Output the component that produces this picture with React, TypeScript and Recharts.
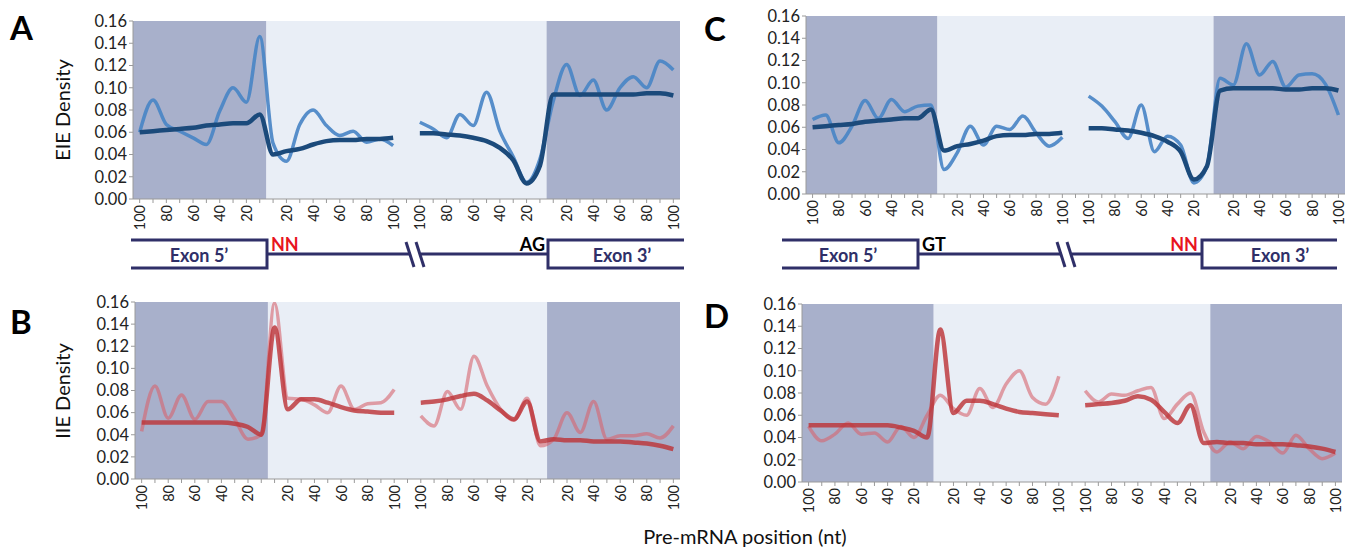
import React from "react";
import { LineChart, Line, XAxis, YAxis, ReferenceArea } from "recharts";

// x positions: exon 5' (100..10), intron start (10..100), break, intron end (100..10), exon 3' (10..100)
const categories = [
  "100", "90", "80", "70", "60", "50", "40", "30", "20", "10",
  "10", "20", "30", "40", "50", "60", "70", "80", "90", "100",
  "",
  "100", "90", "80", "70", "60", "50", "40", "30", "20", "10",
  "10", "20", "30", "40", "50", "60", "70", "80", "90", "100",
];
const positions = categories.map((_, i) => i);
const yTicks = [0, 0.02, 0.04, 0.06, 0.08, 0.1, 0.12, 0.14, 0.16];

// panel A – EIE density, NN donor
const eieObsA = [
  0.060, 0.089, 0.067, 0.061, 0.055, 0.049, 0.079, 0.100, 0.087, 0.146,
  0.050, 0.034, 0.067, 0.080, 0.066, 0.057, 0.061, 0.051, 0.054, 0.048,
  null,
  0.069, 0.063, 0.055, 0.076, 0.066, 0.096, 0.061, 0.038, 0.015, 0.036,
  0.088, 0.121, 0.093, 0.107, 0.080, 0.100, 0.110, 0.100, 0.124, 0.116,
];
const eieExpA = [
  0.060, 0.061, 0.062, 0.063, 0.064, 0.066, 0.067, 0.068, 0.068, 0.076,
  0.040, 0.043, 0.045, 0.049, 0.052, 0.053, 0.053, 0.054, 0.054, 0.055,
  null,
  0.059, 0.059, 0.058, 0.057, 0.055, 0.052, 0.046, 0.035, 0.014, 0.030,
  0.094, 0.094, 0.094, 0.094, 0.094, 0.094, 0.094, 0.095, 0.095, 0.093,
];

// panel C – EIE density, NN acceptor
const eieObsC = [
  0.067, 0.071, 0.046, 0.061, 0.084, 0.068, 0.085, 0.074, 0.079, 0.080,
  0.022, 0.037, 0.061, 0.044, 0.061, 0.058, 0.070, 0.055, 0.043, 0.051,
  null,
  0.088, 0.079, 0.065, 0.050, 0.080, 0.038, 0.052, 0.044, 0.010, 0.025,
  0.104, 0.098, 0.135, 0.107, 0.119, 0.096, 0.107, 0.108, 0.099, 0.071,
];
const eieExpC = [
  0.060, 0.061, 0.062, 0.063, 0.065, 0.066, 0.067, 0.068, 0.068, 0.076,
  0.039, 0.043, 0.045, 0.048, 0.052, 0.053, 0.053, 0.054, 0.054, 0.055,
  null,
  0.059, 0.059, 0.058, 0.057, 0.055, 0.052, 0.047, 0.038, 0.013, 0.025,
  0.093, 0.095, 0.095, 0.095, 0.095, 0.094, 0.094, 0.095, 0.095, 0.093,
];

// panel B – IIE density, NN donor
const iieObsB = [
  0.043, 0.084, 0.055, 0.076, 0.054, 0.070, 0.070, 0.054, 0.036, 0.040,
  0.159, 0.073, 0.072, 0.067, 0.060, 0.084, 0.063, 0.068, 0.069, 0.081,
  null,
  0.057, 0.048, 0.079, 0.063, 0.111, 0.084, 0.063, 0.053, 0.073, 0.030,
  0.036, 0.060, 0.042, 0.070, 0.036, 0.039, 0.039, 0.041, 0.037, 0.048,
];
const iieExpB = [
  0.051, 0.051, 0.051, 0.051, 0.051, 0.051, 0.051, 0.050, 0.047, 0.040,
  0.137, 0.063, 0.072, 0.072, 0.069, 0.065, 0.062, 0.061, 0.060, 0.060,
  null,
  0.069, 0.070, 0.072, 0.075, 0.077, 0.071, 0.062, 0.054, 0.070, 0.034,
  0.036, 0.035, 0.035, 0.034, 0.034, 0.034, 0.033, 0.032, 0.030, 0.027,
];

// panel D – IIE density, NN acceptor
const iieObsD = [
  0.050, 0.037, 0.043, 0.053, 0.043, 0.044, 0.036, 0.050, 0.040, 0.060,
  0.078, 0.066, 0.060, 0.084, 0.067, 0.088, 0.100, 0.076, 0.070, 0.095,
  null,
  0.082, 0.072, 0.079, 0.078, 0.082, 0.085, 0.057, 0.070, 0.080, 0.045,
  0.027, 0.036, 0.030, 0.041, 0.036, 0.026, 0.042, 0.030, 0.021, 0.026,
];
const iieExpD = [
  0.051, 0.051, 0.051, 0.051, 0.051, 0.051, 0.051, 0.049, 0.046, 0.040,
  0.137, 0.062, 0.073, 0.073, 0.070, 0.066, 0.063, 0.062, 0.061, 0.060,
  null,
  0.069, 0.070, 0.071, 0.073, 0.077, 0.074, 0.063, 0.053, 0.069, 0.035,
  0.036, 0.035, 0.035, 0.034, 0.034, 0.034, 0.033, 0.032, 0.030, 0.027,
];

const EXON_BG = "#a8b0cb";
const INTRON_BG = "#e9eef6";
const AXIS = "#9a9a9a";
const DIAG = "#2f2f68";
const FONT = "Lato, 'Open Sans', sans-serif";

function PosTick({ x, y, payload }: any) {
  const label = categories[payload.value];
  if (!label || Number(label) % 20 !== 0) return <g />;
  return (
    <text
      x={x}
      y={y}
      transform={`rotate(-90 ${x} ${y})`}
      textAnchor="end"
      dominantBaseline="central"
      fontSize={14.5}
      fontFamily={FONT}
      fill="#222"
    >
      {label}
    </text>
  );
}

function Panel({ left, top, plotW, plotH, obs, exp, obsColor, expColor, obsOpacity, expOpacity }: any) {
  const YW = 52, MT = 12, MR = 4, XH = 40;
  const data = positions.map((pos, i) => ({ pos, obs: obs[i], exp: exp[i] }));
  return (
    <div style={{ position: "absolute", left: left - YW, top: top - MT }}>
      <LineChart
        width={YW + plotW + MR}
        height={MT + plotH + XH}
        data={data}
        margin={{ top: MT, right: MR, left: 0, bottom: 0 }}
      >
        <ReferenceArea x1={-0.5} x2={9.5} fill={EXON_BG} fillOpacity={1} stroke="none" />
        <ReferenceArea x1={9.5} x2={30.5} fill={INTRON_BG} fillOpacity={1} stroke="none" />
        <ReferenceArea x1={30.5} x2={40.5} fill={EXON_BG} fillOpacity={1} stroke="none" />
        <XAxis
          dataKey="pos"
          type="number"
          domain={[-0.5, 40.5]}
          ticks={positions}
          interval={0}
          height={XH}
          tick={<PosTick />}
          tickSize={4}
          tickMargin={2}
          tickLine={{ stroke: AXIS }}
          axisLine={{ stroke: AXIS }}
        />
        <YAxis
          type="number"
          domain={[0, 0.16]}
          ticks={yTicks}
          interval={0}
          width={YW}
          allowDataOverflow
          tickFormatter={(v: number) => v.toFixed(2)}
          tick={{ fontSize: 16.5, fill: "#222", fontFamily: FONT }}
          tickSize={4}
          tickMargin={2}
          tickLine={{ stroke: AXIS }}
          axisLine={{ stroke: AXIS }}
        />
        <Line
          type="monotone"
          dataKey="obs"
          stroke={obsColor}
          strokeOpacity={obsOpacity}
          strokeWidth={3.5}
          dot={false}
          activeDot={false}
          isAnimationActive={false}
        />
        <Line
          type="monotone"
          dataKey="exp"
          stroke={expColor}
          strokeOpacity={expOpacity}
          strokeWidth={4.5}
          dot={false}
          activeDot={false}
          isAnimationActive={false}
        />
      </LineChart>
    </div>
  );
}

function Overlay() {
  const bold = { fontFamily: FONT, fontWeight: 700 };
  return (
    <svg width={1355} height={552} style={{ position: "absolute", left: 0, top: 0 }}>
      {/* panel letters */}
      <text x={10} y={40} fontSize={33} {...bold} fill="#000">A</text>
      <text x={10} y={334} fontSize={33} {...bold} fill="#000">B</text>
      <text x={704} y={41} fontSize={33} {...bold} fill="#000">C</text>
      <text x={704} y={328} fontSize={33} {...bold} fill="#000">D</text>

      {/* axis titles */}
      <text transform="translate(70 110) rotate(-90)" textAnchor="middle" fontSize={20} fontFamily={FONT} fill="#111">EIE Density</text>
      <text transform="translate(70 391) rotate(-90)" textAnchor="middle" fontSize={20} fontFamily={FONT} fill="#111">IIE Density</text>
      <text x={745} y={544} textAnchor="middle" fontSize={20} fontFamily={FONT} fill="#111">Pre-mRNA position (nt)</text>

      {/* gene diagram A */}
      <g stroke={DIAG} strokeWidth={3} fill="none">
        <polyline points="131,240 267,240 267,268 131,268" />
        <line x1={267} y1={254} x2={411} y2={254} />
        <line x1={421} y1={254} x2={548} y2={254} />
        <line x1={406} y1={242} x2={414} y2={267} />
        <line x1={416} y1={242} x2={424} y2={267} />
        <polyline points="684,240 548,240 548,268 684,268" />
      </g>
      <text x={199} y={262} textAnchor="middle" fontSize={18} {...bold} fill={DIAG}>Exon 5’</text>
      <text x={271} y={251} fontSize={18} {...bold} fill="#e8141e">NN</text>
      <text x={545} y={251} textAnchor="end" fontSize={18} {...bold} fill="#000">AG</text>
      <text x={622} y={262} textAnchor="middle" fontSize={18} {...bold} fill={DIAG}>Exon 3’</text>

      {/* gene diagram C */}
      <g stroke={DIAG} strokeWidth={3} fill="none">
        <polyline points="782,240 918,240 918,268 782,268" />
        <line x1={918} y1={254} x2={1062} y2={254} />
        <line x1={1072} y1={254} x2={1202} y2={254} />
        <line x1={1057} y1={242} x2={1065} y2={267} />
        <line x1={1067} y1={242} x2={1075} y2={267} />
        <polyline points="1337,240 1202,240 1202,268 1337,268" />
      </g>
      <text x={848} y={262} textAnchor="middle" fontSize={18} {...bold} fill={DIAG}>Exon 5’</text>
      <text x={922} y={251} fontSize={18} {...bold} fill="#000">GT</text>
      <text x={1198} y={251} textAnchor="end" fontSize={18} {...bold} fill="#e8141e">NN</text>
      <text x={1280} y={262} textAnchor="middle" fontSize={18} {...bold} fill={DIAG}>Exon 3’</text>
    </svg>
  );
}

export default function App() {
  const blueObs = "#4a86c6";
  const blueExp = "#1b4a7b";
  const redObs = "#d7646e";
  const redExp = "#bd3438";
  return (
    <div style={{ position: "absolute", left: 0, top: 0, width: 1355, height: 552, background: "#fff", overflow: "hidden" }}>
      <Overlay />
      <Panel left={133} top={21} plotW={547} plotH={178} obs={eieObsA} exp={eieExpA}
        obsColor={blueObs} expColor={blueExp} obsOpacity={0.92} expOpacity={1} />
      <Panel left={806} top={16} plotW={539} plotH={178} obs={eieObsC} exp={eieExpC}
        obsColor={blueObs} expColor={blueExp} obsOpacity={0.92} expOpacity={1} />
      <Panel left={135} top={302} plotW={545} plotH={177} obs={iieObsB} exp={iieExpB}
        obsColor={redObs} expColor={redExp} obsOpacity={0.6} expOpacity={0.82} />
      <Panel left={802} top={304} plotW={540} plotH={178} obs={iieObsD} exp={iieExpD}
        obsColor={redObs} expColor={redExp} obsOpacity={0.6} expOpacity={0.82} />
    </div>
  );
}
